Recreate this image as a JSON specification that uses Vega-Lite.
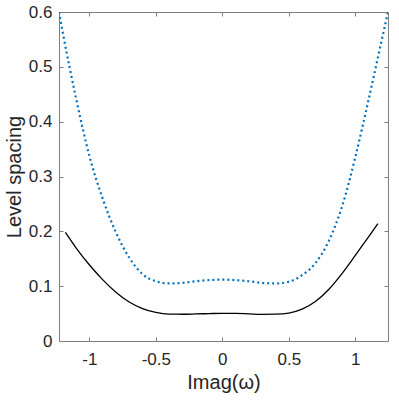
{
  "$schema": "https://vega.github.io/schema/vega-lite/v6.json",
  "width": 329,
  "height": 329,
  "autosize": "none",
  "padding": {"left": 59, "top": 12, "right": 11, "bottom": 63},
  "background": "white",
  "config": {
    "view": {"stroke": null},
    "font": "Liberation Sans",
    "axis": {
      "domainColor": "#7f7f7f",
      "domainWidth": 1,
      "tickColor": "#7f7f7f",
      "tickWidth": 1,
      "tickSize": -4,
      "labelColor": "#262626",
      "labelFont": "Liberation Sans",
      "labelFontSize": 17,
      "titleFont": "Liberation Sans",
      "titleFontSize": 20,
      "titleFontWeight": "normal",
      "titleColor": "#262626",
      "grid": false
    }
  },
  "data": {
    "values": [
      {"s": "blue", "x": -1.228, "y": 0.6},
      {"s": "blue", "x": -1.2, "y": 0.563},
      {"s": "blue", "x": -1.1, "y": 0.443},
      {"s": "blue", "x": -1.0, "y": 0.338},
      {"s": "blue", "x": -0.9, "y": 0.26},
      {"s": "blue", "x": -0.8, "y": 0.198},
      {"s": "blue", "x": -0.7, "y": 0.152},
      {"s": "blue", "x": -0.6, "y": 0.122},
      {"s": "blue", "x": -0.5, "y": 0.109},
      {"s": "blue", "x": -0.4, "y": 0.105},
      {"s": "blue", "x": -0.3, "y": 0.106},
      {"s": "blue", "x": -0.2, "y": 0.109},
      {"s": "blue", "x": -0.1, "y": 0.111},
      {"s": "blue", "x": 0.0, "y": 0.112},
      {"s": "blue", "x": 0.1, "y": 0.111},
      {"s": "blue", "x": 0.2, "y": 0.109},
      {"s": "blue", "x": 0.3, "y": 0.106},
      {"s": "blue", "x": 0.4, "y": 0.105},
      {"s": "blue", "x": 0.5, "y": 0.108},
      {"s": "blue", "x": 0.6, "y": 0.12},
      {"s": "blue", "x": 0.7, "y": 0.142},
      {"s": "blue", "x": 0.8, "y": 0.182},
      {"s": "blue", "x": 0.9, "y": 0.245},
      {"s": "blue", "x": 1.0, "y": 0.335},
      {"s": "blue", "x": 1.1, "y": 0.44},
      {"s": "blue", "x": 1.2, "y": 0.55},
      {"s": "blue", "x": 1.246, "y": 0.6},
      {"s": "black", "x": -1.18, "y": 0.198},
      {"s": "black", "x": -1.1, "y": 0.17},
      {"s": "black", "x": -1.0, "y": 0.139},
      {"s": "black", "x": -0.9, "y": 0.112},
      {"s": "black", "x": -0.8, "y": 0.089},
      {"s": "black", "x": -0.7, "y": 0.071},
      {"s": "black", "x": -0.6, "y": 0.059},
      {"s": "black", "x": -0.5, "y": 0.052},
      {"s": "black", "x": -0.4, "y": 0.049},
      {"s": "black", "x": -0.3, "y": 0.0488},
      {"s": "black", "x": -0.2, "y": 0.0493},
      {"s": "black", "x": -0.1, "y": 0.05},
      {"s": "black", "x": 0.0, "y": 0.0505},
      {"s": "black", "x": 0.1, "y": 0.0503},
      {"s": "black", "x": 0.2, "y": 0.0495},
      {"s": "black", "x": 0.3, "y": 0.0487},
      {"s": "black", "x": 0.4, "y": 0.049},
      {"s": "black", "x": 0.5, "y": 0.051},
      {"s": "black", "x": 0.6, "y": 0.058},
      {"s": "black", "x": 0.7, "y": 0.072},
      {"s": "black", "x": 0.8, "y": 0.094},
      {"s": "black", "x": 0.9, "y": 0.123},
      {"s": "black", "x": 1.0, "y": 0.156},
      {"s": "black", "x": 1.1, "y": 0.19},
      {"s": "black", "x": 1.17, "y": 0.214}
    ]
  },
  "layer": [
    {
      "transform": [{"filter": "datum.s == 'blue'"}],
      "mark": {"type": "line", "color": "#0072BD", "strokeWidth": 2.2, "strokeDash": [2, 3], "interpolate": "monotone", "clip": true},
      "encoding": {
        "x": {"field": "x", "type": "quantitative", "scale": {"domain": [-1.228, 1.246], "nice": false, "zero": false},
          "axis": {"title": "Imag(ω)", "values": [-1, -0.5, 0, 0.5, 1], "labelExpr": "toString(datum.value)", "labelPadding": 14, "titlePadding": 5}},
        "y": {"field": "y", "type": "quantitative", "scale": {"domain": [0, 0.6], "nice": false, "zero": false},
          "axis": {"title": "Level spacing", "values": [0, 0.1, 0.2, 0.3, 0.4, 0.5, 0.6], "labelExpr": "toString(datum.value)", "labelPadding": 11, "titlePadding": 4}}
      }
    },
    {
      "transform": [{"filter": "datum.s == 'black'"}],
      "mark": {"type": "line", "color": "#000000", "strokeWidth": 1.3, "interpolate": "monotone", "clip": true},
      "encoding": {
        "x": {"field": "x", "type": "quantitative", "axis": {"orient": "top", "labels": false, "title": null, "values": [-1, -0.5, 0, 0.5, 1]}},
        "y": {"field": "y", "type": "quantitative", "axis": {"orient": "right", "labels": false, "title": null, "values": [0, 0.1, 0.2, 0.3, 0.4, 0.5, 0.6]}}
      }
    }
  ],
  "resolve": {"axis": {"x": "independent", "y": "independent"}}
}
